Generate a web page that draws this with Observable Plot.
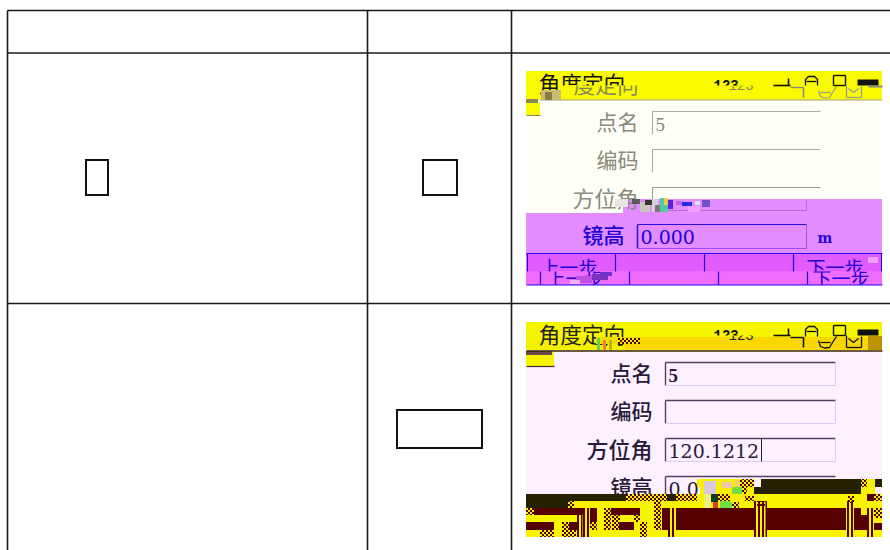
<!DOCTYPE html>
<html><head><meta charset="utf-8">
<script src="https://cdn.jsdelivr.net/npm/d3@7"></script>
<script src="https://cdn.jsdelivr.net/npm/@observablehq/plot@0.6"></script>
<style>html,body{margin:0;padding:0;background:#fff}svg{display:block}</style>
</head><body><div id="chart"></div>
<script>
const R=(x1,y1,x2,y2,fill)=>({x1,y1,x2,y2,fill});
const L=(x1,y1,x2,y2,stroke="#1a1a1a",w=1.6)=>({pts:[[x1,y1],[x2,y2]],stroke,w});
const P=(pts,stroke,w)=>({pts,stroke,w});
const T=(text,x,y,fill,size,anchor="start",weight=400,font="Noto Sans CJK SC")=>({text,x,y,fill,size,anchor,weight,font});
const serif="Liberation Serif", mono="Liberation Mono", dserif="DejaVu Serif";
const M="#560000", Y="#f8f400", K="#242200", D="url(#dith)";

const tableRules=[L(7,10,890,10),L(7,52.5,890,52.5),L(7,303,890,303),L(7,10,7,550),L(367,10,367,550),L(511,10,511,550)];
const emptyBoxes=[R(86,160,108,195),R(423,160,457,195),R(397,410,482,448)];

// upper screen
const screen1Fills=[
 R(526,71,882,100,"#fafa00"),R(526,100,882,213,"#feffF6"),
 R(526,99,538,103,"#8a8a50"),R(526,103,540,115,"#fafa00"),R(540,99.5,882,100.5,"#a0a080"),
 R(623,199,882,213,"#e28cff"),R(526,213,882,253,"#e28cff"),
 R(526,253,882,271,"#e05cff"),R(526,271,882,285,"#ee6cff")];
const screen1Rules=[
 L(526,115,540,115,"#8a8a50",1),
 L(652,111,820,111,"#aaa",1),L(652,111,652,134,"#aaa",1),
 L(652,149,820,149,"#aaa",1),L(652,149,652,172,"#aaa",1),
 L(652,187,820,187,"#999",1),L(652,187,652,199,"#999",1),
 L(806,199,806,210,"#b070c8",1),L(652,210,806,210,"#b070c8",1),
 L(637,224,806,224,"#2a10d8",1.2),L(637,224,637,248,"#2a10d8",1.5),L(637,248,806,248,"#a050e0",1),L(806,224,806,248,"#a050e0",1),
 L(526,253,882,253,"#2200e8",1.2),L(526,284.5,882,284.5,"#2200e8",1.2),
 L(527,253,527,271,"#2200e8",1),L(615,253,615,271,"#2200e8",1.2),L(704,253,704,271,"#2200e8",1.2),L(793,253,793,271,"#2200e8",1.2),L(881,253,881,271,"#2200e8",1),
 L(540,271,540,284,"#2200e8",1.2),L(629,271,629,284,"#2200e8",1.2),L(718,271,718,284,"#2200e8",1.2),L(807,271,807,284,"#2200e8",1.2)];
const screen1Noise=[
 R(615,199,628,207,"#e8e4e0"),R(632,199,640,204,"#5a5a60"),R(640,202,650,212,"#c8c8b8"),R(645,200,652,205,"#333"),
 R(652,199,658,212,"#d8d0d8"),R(655,205,662,212,"#777"),R(660,198,668,212,"#50c8a0"),R(664,198,668,205,"#e8d040"),R(668,200,673,209,"#6020e0"),
 R(676,201,682,205,"#c060f0"),R(682,202,692,206,"#2030e0"),R(688,206,700,212,"#f0a0ff"),R(695,201,700,205,"#e0e0ff"),R(702,200,710,207,"#7050d0"),
 R(576,276,592,283,"#c050e0"),R(592,274,608,280,"#8030c0"),R(570,280,580,284,"#f0b0ff"),R(600,272,612,276,"#7030d0"),
 R(868,257,878,263,"#f0a0ff"),R(541,90,561,100,"#c8bc70"),R(545,92,552,100,"#8a7a40")];

// lower screen
const screen2Base=[
 R(526,322,882,337,"#f5f500"),R(526,337,625,350,"#f5f000"),R(625,337,882,350,"#f8d800"),R(868,336,882,350,"#b89400"),R(526,350,882,494,"#fdf0ff"),
 R(526,351,552,355,"#6a4a50"),R(552,351,554,366,Y),R(526,355,554,366,Y)];
const screen2Band=[
 R(526,494,882,537,Y),
 R(526,494,626,501,K),R(526,501,568,508,K),R(568,501,574,508,D),R(626,494,667,501,D),R(667,494,676,501,K),R(676,494,697,501,D),
 R(754,487,761,494,K),R(761,479,861,494,K),R(875,479,882,487,K),
 R(697,479,740,487,"#f8f000"),R(700,487,754,494,"#f8f000"),R(861,479,875,494,Y),R(861,479,867,487,D),
 R(740,479,754,487,D),R(740,487,747,494,D),R(740,496,754,501,D),R(732,502,739,508,D),
 R(534,508,583,515,M),R(526,508,534,515,D),R(526,522,554,530,M),R(562,522,569,530,D),R(569,522,577,530,M),
 R(590,508,597,522,M),R(590,522,597,530,D),R(604,508,611,530,D),R(611,508,640,515,M),R(612,515,620,530,D),R(619,522,634,530,M),R(634,515,640,522,D),R(640,522,647,537,D),
 R(654,501,661,530,D),R(662,508,668,530,M),R(676,508,754,530,M),R(767,508,846,530,M),R(854,508,861,530,M),R(861,515,867,530,M),
 R(874,523,882,530,M),R(874,508,882,518,D),R(540,530,554,537,D),R(562,530,576,537,D),
 R(867,494,874,501,M),R(874,494,882,501,D),R(848,496,854,503,D),R(757,501,765,506,D),
 // stripes
 R(583,508,585,537,M),R(587,508,589,537,M),R(577,515,579,537,M),R(581,515,582.5,537,M),
 R(668,508,670,537,M),R(672,508,674,537,M),R(754,501,756,537,M),R(758,501,760,537,M),R(762,501,764,537,M),R(765.5,501,767,537,M),
 R(847,501,849,537,M),R(851,501,853,537,M),R(867,508,869,537,M),R(871,508,873,537,M)];
const screen2Rules=[
 L(526,350.5,882,350.5,"#3a2800",1.5),L(526,366,554,366,"#4a2a40",1.2),
 L(665,362,835,362,"#55405f",1.4),L(665,362,665,385,"#55405f",1.4),L(665,385,835,385,"#e0c8f0",1),L(835,362,835,385,"#e0c8f0",1),
 L(665,400,835,400,"#55405f",1.4),L(665,400,665,423,"#55405f",1.4),L(665,423,835,423,"#e0c8f0",1),L(835,400,835,423,"#e0c8f0",1),
 L(665,438,835,438,"#55405f",1.4),L(665,438,665,461,"#55405f",1.4),L(665,461,835,461,"#e0c8f0",1),L(835,438,835,461,"#e0c8f0",1),
 L(665,476,835,476,"#55405f",1.4),L(665,476,665,494,"#55405f",1.4),L(761,438,761,461,"#222",1)];
const screen2Noise=[
 R(596,337,625,344,"#f0e000"),R(597,338,600,350,"#60d050"),R(603,340,606,350,"#f08040"),R(609,340,612,350,"#c8b000"),R(618,338,640,344,D),
 R(704,481,716,494,"#d8c8e0"),R(716,480,728,487,"#f8f000"),R(722,482,732,488,"#f0c8b0"),R(732,487,742,494,"#70e040"),
 R(704,494,711,508,"#f0f080"),R(711,494,718,502,"#104010"),R(713,502,718,508,"#e04020"),R(718,494,730,502,D),R(720,501,732,508,"#70e040"),R(730,494,745,502,"#f8f000"),R(735,480,740,487,"#f8d060")];

const icons2=[
 L(773,335,790,335,"#111",1.6),L(788,328,788,335,"#111",1.6),L(790,337,803,337,"#111",1.4),L(803,337,803,347,"#111",1.6),
 P([[805,336],[805,329],[808,326],[814,326],[817,329],[817,336]],"#111",1.3),L(806,331,816,331,"#111",1.3),
 P([[818,340],[820,346],[824,347.5],[829,347],[832,342],[836,336]],"#111",1.3),L(820,342,830,342,"#111",1.2),
 L(833,325,845,325,"#111",1.4),L(833,325,833,335,"#111",1.4),L(845,325,845,335,"#111",1.4),L(833,335,845,335,"#111",1.4),
 L(846,335,846,347,"#111",1.3),P([[848,338],[853,342],[858,338]],"#111",1.3),L(846,347,861,347,"#111",1.3),L(861,336,861,347,"#111",1.3),
 L(857,332,878,332,"#111",6)];
const icons1=[
 L(773,85,790,85,"#111",1.6),L(788,78,788,85,"#111",1.6),L(790,87,803,87,"#888",1.4),L(803,87,803,97,"#888",1.6),
 P([[805,85],[805,79],[808,76],[814,76],[817,79],[817,85]],"#111",1.3),L(806,81,816,81,"#111",1.3),
 P([[818,90],[820,96],[824,97.5],[829,97],[832,92],[836,86]],"#999",1.2),L(820,92,830,92,"#999",1.2),
 L(833,75,845,75,"#111",1.4),L(833,75,833,85,"#111",1.4),L(845,75,845,85,"#111",1.4),L(833,85,845,85,"#111",1.4),
 L(846,85,846,97,"#999",1.2),P([[848,88],[853,92],[858,88]],"#999",1.2),L(846,97,861,97,"#999",1.2),L(861,86,861,97,"#999",1.2),
 L(857,82,878,82,"#111",6),L(868,86,882,86,"#888",2)];

const labels1=[
 T("点名",638,123,"#8a8a7a",21,"end"),T("编码",638,161,"#8a8a7a",21,"end"),T("方位角",638,199,"#8a8a7a",22,"end"),
 T("5",655,124,"#888",19,"start",400,serif),
 T("镜高",624,236,"#2200d8",21,"end",500),T("0.000",640,237,"#2200d8",19,"start",400,dserif),T("m",817,238,"#2200d8",14,"start",700,dserif)];
const labels2=[
 T("点名",652,374,"#2a1a3a",21,"end",500),T("编码",652,412,"#2a1a3a",21,"end",500),T("方位角",652,450,"#2a1a3a",22,"end",500),T("镜高",652,488,"#2a1a3a",21,"end",500),
 T("5",668,375,"#2a1a3a",19,"start",700,serif),T("120.1212",668,451,"#2a1a3a",19,"start",400,dserif),T("0.0",668,489,"#2a1a3a",19,"start",400,dserif),
 T("角度定向",538,336,"#222",21.7)];
const title1First=[T("角",538,85,"#111",21.7)];
const title1Rest=[T("度定向",559.7,85,"#111",21.7)];
const title1Ghost=[T("度定向",573,86,"#8a8a50",21.7)];
const status1Top=[T("123",713,85,"#111",14,"start",700,mono)];
const status1Low=[T("123",728,85,"#888860",14,"start",400,mono)];
const status2Top=[T("123",713,335,"#111",14,"start",700,mono)];
const status2Low=[T("123",728,335,"#222",14,"start",400,mono)];
const btnTop=[T("上一步",540,268,"#2200d8",19),T("下一步",806,268,"#2200d8",19)];
const btnLow=[T("上一步",546,279,"#2200d8",19),T("下一步",812,279,"#2200d8",19)];

let clipN=0;
function clipY(y0,y1){
 return function(index,scales,values,dims,ctx,next){
  const g=next(index,scales,values,dims,ctx);
  const id="clipband"+(clipN++);
  const ns="http://www.w3.org/2000/svg";
  const cp=document.createElementNS(ns,"clipPath");cp.setAttribute("id",id);
  const r=document.createElementNS(ns,"rect");
  r.setAttribute("x",0);r.setAttribute("width",dims.width);r.setAttribute("y",scales.y(y0));r.setAttribute("height",scales.y(y1)-scales.y(y0));
  cp.appendChild(r);g.insertBefore(cp,g.firstChild);g.setAttribute("clip-path","url(#"+id+")");
  return g;
 };
}
const rects=(d)=>Plot.rect(d,{x1:"x1",y1:"y1",x2:"x2",y2:"y2",fill:"fill"});
const rules=(d)=>d.map(l=>Plot.line(l.pts,{stroke:l.stroke,strokeWidth:l.w,strokeLinecap:"butt",strokeLinejoin:"round"}));
const texts=(d,extra={})=>d.map(t=>Plot.text([t],{x:"x",y:"y",text:"text",fill:t.fill,fontSize:t.size,textAnchor:t.anchor,fontWeight:t.weight,fontFamily:t.font,lineAnchor:"middle",...extra}));

const chart=Plot.plot({
 width:890,height:550,margin:0,
 style:{background:"#fff"},
 x:{domain:[0,890],range:[0,890],axis:null},
 y:{domain:[0,550],range:[0,550],axis:null},
 color:{type:"identity"},
 marks:[
  ...rules(tableRules),
  Plot.rect(emptyBoxes,{x1:"x1",y1:"y1",x2:"x2",y2:"y2",fill:"none",stroke:"#111",strokeWidth:2}),

  rects(screen1Fills),
  ...rules(screen1Rules),
  ...texts(title1Ghost,{render:clipY(85,97)}),
  ...texts(title1Rest,{render:clipY(71,85)}),
  ...texts(title1First,{render:clipY(71,96)}),
  ...texts(status1Low,{render:clipY(85,92)}),
  ...texts(status1Top,{render:clipY(78,85)}),
  ...texts(labels1),
  ...rules(icons1),
  ...texts(btnTop,{render:clipY(253,271)}),
  ...texts(btnLow,{render:clipY(271,284)}),
  rects(screen1Noise),

  rects(screen2Base),
  ...texts(labels2),
  ...texts(status2Top,{render:clipY(328,335)}),
  ...texts(status2Low,{render:clipY(335,342)}),
  ...rules(screen2Rules),
  ...rules(icons2),
  rects(screen2Band),
  rects(screen2Noise)
 ]
});
// dither swatch used by the glitch blocks
const ns="http://www.w3.org/2000/svg";
const defs=document.createElementNS(ns,"defs");
defs.innerHTML='<pattern id="dith" width="4" height="4" patternUnits="userSpaceOnUse"><rect width="4" height="4" fill="#f8f400"/><rect width="2" height="2" fill="#560000"/><rect x="2" y="2" width="2" height="2" fill="#560000"/></pattern>';
chart.insertBefore(defs,chart.firstChild);
document.getElementById("chart").appendChild(chart);
</script></body></html>
